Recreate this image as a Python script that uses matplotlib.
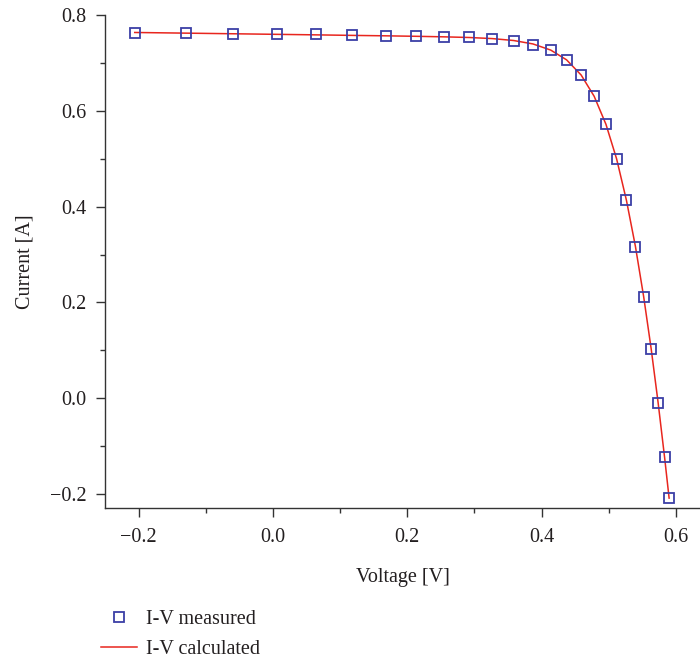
import matplotlib
matplotlib.use("Agg")
import matplotlib.pyplot as plt
from matplotlib.ticker import MultipleLocator

# Measured I-V points
voltage = [-0.2057, -0.1291, -0.0588, 0.0057, 0.0646, 0.1185, 0.1678, 0.2132,
           0.2545, 0.2924, 0.3269, 0.3585, 0.3873, 0.4137, 0.4373, 0.4590,
           0.4784, 0.4960, 0.5119, 0.5265, 0.5398, 0.5521, 0.5633, 0.5736,
           0.5833, 0.5900]
current_measured = [0.7640, 0.7620, 0.7605, 0.7605, 0.7600, 0.7590, 0.7570, 0.7570,
                    0.7555, 0.7540, 0.7505, 0.7465, 0.7385, 0.7280, 0.7065, 0.6755,
                    0.6320, 0.5730, 0.4990, 0.4130, 0.3165, 0.2120, 0.1035, -0.0100,
                    -0.1230, -0.2100]
# Calculated curve at the same voltages
current_calculated = [0.7641, 0.7627, 0.7614, 0.7602, 0.7591, 0.7580, 0.7571, 0.7561,
                      0.7550, 0.7536, 0.7513, 0.7473, 0.7401, 0.7273, 0.7069, 0.6752,
                      0.6307, 0.5720, 0.4995, 0.4130, 0.3172, 0.2120, 0.1028, -0.0093,
                      -0.1244, -0.2092]

text_color = '#231f20'
fs = 14.5
plt.rcParams['font.family'] = ['Liberation Serif', 'DejaVu Serif']
plt.rcParams['font.size'] = fs

fig = plt.figure(figsize=(7.0, 6.61), dpi=100)
ax = fig.add_axes([105 / 700, 1 - 508.3 / 661, 595 / 700, 493 / 661])

ax.plot(voltage, current_calculated, color='#e8261e', linewidth=1.1,
        label='I-V calculated', zorder=2)
ax.plot(voltage, current_measured, linestyle='none', marker='s', markersize=7.8,
        markerfacecolor='none', markeredgecolor='#3b3fa6', markeredgewidth=1.3,
        label='I-V measured', zorder=3)

ax.set_xlim(-0.25, 0.636)
ax.set_ylim(-0.2305, 0.8)
ax.xaxis.set_major_locator(MultipleLocator(0.2))
ax.xaxis.set_minor_locator(MultipleLocator(0.1))
ax.yaxis.set_major_locator(MultipleLocator(0.2))
ax.yaxis.set_minor_locator(MultipleLocator(0.1))
ax.xaxis.set_major_formatter(lambda v, p: f"{v:.1f}".replace('-', '\u2212'))
ax.yaxis.set_major_formatter(lambda v, p: f"{v:.1f}".replace('-', '\u2212'))

for side in ('top', 'right'):
    ax.spines[side].set_visible(False)
for side in ('left', 'bottom'):
    ax.spines[side].set_color('#333333')
    ax.spines[side].set_linewidth(1.0)

ax.tick_params(which='major', direction='out', length=6.5, width=1.0,
               colors='#333333', labelcolor=text_color, labelsize=fs)
ax.tick_params(which='minor', direction='out', length=3.5, width=1.0, colors='#333333')
ax.tick_params(axis='x', which='major', pad=8)
ax.tick_params(axis='y', which='major', pad=7)

ax.set_xlabel('Voltage [V]', color=text_color, fontsize=fs, labelpad=15)
ax.set_ylabel('Current [A]', color=text_color, fontsize=fs, labelpad=11)

handles, labels = ax.get_legend_handles_labels()
fig.legend(handles[::-1], labels[::-1], loc='upper left',
           bbox_to_anchor=(101 / 700, 1 - 610 / 661), frameon=False,
           borderpad=0, borderaxespad=0, handlelength=1.8, handletextpad=0.45,
           labelspacing=0.55, fontsize=fs, labelcolor=text_color)

fig.savefig('out.png', dpi=100)
